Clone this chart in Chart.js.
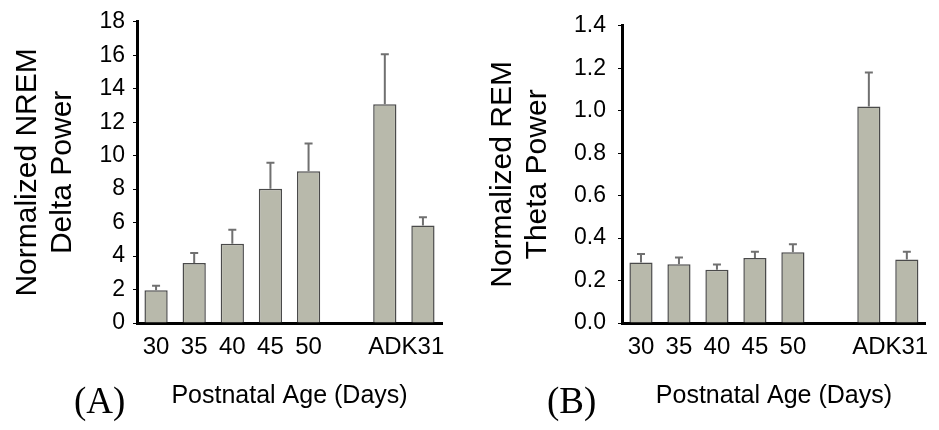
<!DOCTYPE html>
<html>
<head>
  <title>Normalized power by postnatal age</title>
  <script src="https://cdn.jsdelivr.net/npm/chart.js"></script>
  <style>
    body {
      margin: 0;
      padding: 0;
      background: #ffffff;
      font-family: 'Liberation Sans', Arial, sans-serif;
    }
    #wrap {
      position: relative;
      width: 939px;
      height: 430px;
    }
    canvas {
      position: absolute;
      top: 0;
    }
    .panel {
      position: absolute;
      top: 382px;
      font-family: 'Liberation Serif', 'Times New Roman', serif;
      font-size: 37px;
      line-height: 37px;
      color: #000;
    }
  </style>
</head>
<body>
  <div id="wrap">
    <canvas id="chartA" width="470" height="430" style="left:0"></canvas>
    <canvas id="chartB" width="469" height="430" style="left:470px"></canvas>
    <div class="panel" style="left:74px">(A)</div>
    <div class="panel" style="left:547px">(B)</div>
  </div>

  <script>
    // empty slot between 50 and the adult group
    const groups = ['30', '35', '40', '45', '50', '', 'AD', 'K31'];

    const deltaMean = [1.96, 3.58, 4.73, 8.02, 9.07, null, 13.07, 5.82];
    const deltaErr  = [2.22, 4.18, 5.57, 9.58, 10.73, null, 16.06, 6.32];
    const deltaTicks = [0, 2, 4, 6, 8, 10, 12, 14, 16, 18];

    const thetaMean = [0.285, 0.277, 0.251, 0.306, 0.333, null, 1.02, 0.299];
    const thetaErr  = [0.325, 0.308, 0.276, 0.336, 0.371, null, 1.18, 0.336];
    const thetaTicks = [0, 0.2, 0.4, 0.6, 0.8, 1.0, 1.2, 1.4];

    const barFill = '#b8b9ab';
    const barEdge = '#4a4a4a';

    // upward error bars with a small cap
    const errorBars = {
      id: 'errorBars',
      afterDatasetsDraw(chart, args, opts) {
        const ctx = chart.ctx;
        const meta = chart.getDatasetMeta(0);
        const y = chart.scales.y;
        ctx.save();
        ctx.strokeStyle = '#707070';
        ctx.lineWidth = 2;
        meta.data.forEach((bar, i) => {
          const top = opts.values[i];
          if (top == null) return;
          const x = bar.x;
          const y0 = bar.y;
          const y1 = y.getPixelForValue(top);
          ctx.beginPath();
          ctx.moveTo(x, y0);
          ctx.lineTo(x, y1);
          ctx.moveTo(x - 4, y1);
          ctx.lineTo(x + 4, y1);
          ctx.stroke();
        });
        ctx.restore();
      }
    };

    function makeChart(id, values, errs, ticks, yMax, decimals, titleLines, axisWidth, titlePad, tickPad, padRight) {
      const ctx = document.getElementById(id).getContext('2d');
      return new Chart(ctx, {
        type: 'bar',
        data: {
          labels: groups,
          datasets: [{
            data: values,
            backgroundColor: barFill,
            borderColor: barEdge,
            borderWidth: { top: 1.5, left: 1.5, right: 1.5, bottom: 0 },
            borderSkipped: 'bottom',
            categoryPercentage: 1,
            barPercentage: 0.61
          }]
        },
        plugins: [errorBars],
        options: {
          responsive: false,
          animation: false,
          layout: { padding: { top: 20, right: padRight, bottom: 0, left: 0 } },
          plugins: {
            legend: { display: false },
            tooltip: { enabled: false },
            errorBars: { values: errs }
          },
          scales: {
            x: {
              grid: { display: false, drawTicks: false },
              border: { display: true, color: '#000', width: 3 },
              ticks: {
                color: '#000',
                padding: 10,
                maxRotation: 0,
                autoSkip: false,
                font: { family: 'Liberation Sans', size: 24 }
              },
              title: {
                display: true,
                text: 'Postnatal Age (Days)',
                color: '#000',
                font: { family: 'Liberation Sans', size: 25 },
                padding: { top: 0, bottom: 19 }
              },
              afterFit(s) { s.height = 107; }
            },
            y: {
              min: 0,
              max: yMax,
              afterBuildTicks(s) { s.ticks = ticks.map(v => ({ value: v })); },
              grid: {
                display: true,
                drawOnChartArea: false,
                drawTicks: true,
                tickLength: 4,
                color: '#000',
                lineWidth: 1
              },
              border: { display: true, color: '#000', width: 3 },
              ticks: {
                color: '#000',
                padding: tickPad,
                font: { family: 'Liberation Sans', size: 23 },
                callback: v => v.toFixed(decimals)
              },
              title: {
                display: true,
                text: titleLines,
                color: '#000',
                font: { family: 'Liberation Sans', size: 30, lineHeight: 1.17 },
                padding: { top: titlePad, bottom: 0 }
              },
              afterFit(s) { s.width = axisWidth; }
            }
          }
        }
      });
    }

    makeChart('chartA', deltaMean, deltaErr, deltaTicks, 18, 0,
      ['Normalized NREM', 'Delta Power'], 137, 10.5, 8, 28);
    makeChart('chartB', thetaMean, thetaErr, thetaTicks, 1.4, 1,
      ['Normalized REM', 'Theta Power'], 152, 15.5, 12, 13);
  </script>
</body>
</html>
